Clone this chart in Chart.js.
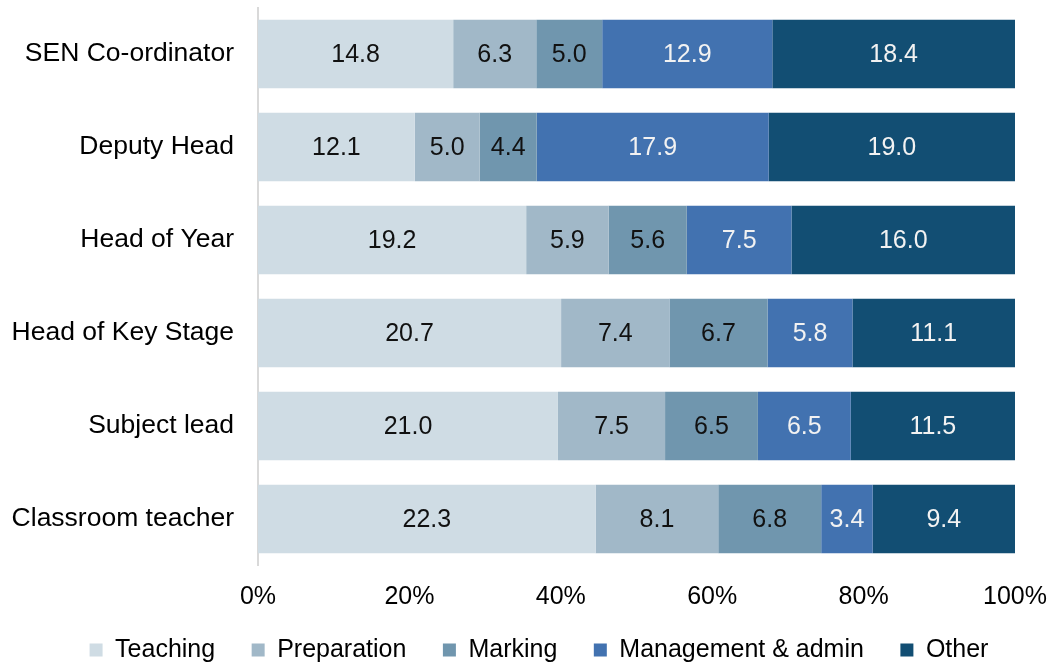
<!DOCTYPE html>
<html>
<head>
<meta charset="utf-8">
<script src="https://cdn.jsdelivr.net/npm/chart.js@4/dist/chart.umd.min.js"></script>
<style>
html,body{margin:0;padding:0;background:#fff;}
#wrap{width:1052px;height:666px;position:relative;}
</style>
</head>
<body>
<div id="wrap"><canvas id="c" width="1052" height="666"></canvas></div>
<script>
const categories = ["SEN Co-ordinator","Deputy Head","Head of Year","Head of Key Stage","Subject lead","Classroom teacher"];
const teaching    = [14.8, 12.1, 19.2, 20.7, 21.0, 22.3];
const preparation = [6.3, 5.0, 5.9, 7.4, 7.5, 8.1];
const marking     = [5.0, 4.4, 5.6, 6.7, 6.5, 6.8];
const management  = [12.9, 17.9, 7.5, 5.8, 6.5, 3.4];
const other       = [18.4, 19.0, 16.0, 11.1, 11.5, 9.4];
const seriesNames = ["Teaching","Preparation","Marking","Management & admin","Other"];
const xTicks = [0, 20, 40, 60, 80, 100];

const seriesValues = [teaching, preparation, marking, management, other];
const colors = ["#CFDCE4","#A1B8C8","#7096AE","#4272B0","#124E73"];
const labelColors = ["#111111","#111111","#111111","#F2F2F2","#F2F2F2"];
const totals = categories.map((_, i) => seriesValues.reduce((s, arr) => s + arr[i], 0));

const datasets = seriesValues.map((vals, k) => ({
  label: seriesNames[k],
  data: vals.map((v, i) => v / totals[i] * 100),
  raw: vals,
  backgroundColor: colors[k],
  borderWidth: 0,
  barPercentage: 0.734,
  categoryPercentage: 1.0
}));

const FONT = "'Liberation Sans', Arial, sans-serif";
const FS = 25;
const FS_Y = 26.5;

const labelPlugin = {
  id: 'segLabels',
  afterDatasetsDraw(chart) {
    const ctx = chart.ctx;
    ctx.save();
    ctx.font = FS + "px " + FONT;
    ctx.textAlign = 'center';
    ctx.textBaseline = 'middle';
    chart.data.datasets.forEach((ds, k) => {
      const meta = chart.getDatasetMeta(k);
      meta.data.forEach((bar, i) => {
        const cx = (bar.x + bar.base) / 2;
        ctx.fillStyle = labelColors[k];
        ctx.fillText(ds.raw[i].toFixed(1), cx, bar.y + 1);
      });
    });
    ctx.restore();
  }
};

Chart.defaults.font.family = FONT;
Chart.defaults.color = '#000';

new Chart(document.getElementById('c'), {
  type: 'bar',
  data: { labels: categories, datasets },
  options: {
    indexAxis: 'y',
    responsive: false,
    animation: false,
    devicePixelRatio: 1,
    layout: { padding: { top: 7.5, right: 0, bottom: -6.5, left: 26 } },
    plugins: {
      legend: {
        position: 'bottom',
        labels: {
          font: { size: FS, family: FONT },
          color: '#000',
          boxWidth: 13,
          boxHeight: 13,
          padding: 36.5
        }
      },
      tooltip: { enabled: false }
    },
    scales: {
      x: {
        stacked: true,
        min: 0,
        max: 100,
        afterBuildTicks(scale) { scale.ticks = xTicks.map(v => ({ value: v })); },
        afterFit(scale) {
          scale.height = 35.5; scale.paddingLeft = 0; scale.paddingRight = 37;
          scale._computeLabelArea = () => undefined;
        },
        ticks: {
          font: { size: FS, family: FONT },
          color: '#000',
          padding: 16.5,
          maxRotation: 0,
          callback: v => v + '%'
        },
        grid: { display: false, drawTicks: false },
        border: { display: false }
      },
      y: {
        stacked: true,
        afterFit(scale) {
          scale.width = 232; scale.paddingTop = 0; scale.paddingBottom = 0;
          scale._computeLabelArea = () => undefined;
        },
        ticks: {
          font: { size: FS_Y, family: FONT },
          color: '#000',
          padding: 24
        },
        grid: { display: false, drawTicks: false },
        border: { display: true, color: '#D9D9D9', width: 2 }
      }
    }
  },
  plugins: [labelPlugin]
});
</script>
</body>
</html>
